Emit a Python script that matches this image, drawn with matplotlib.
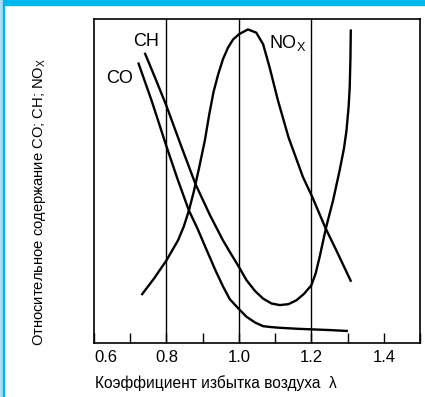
import matplotlib.pyplot as plt
from matplotlib.patches import Rectangle

plt.rcParams['font.family'] = ['Liberation Sans', 'DejaVu Sans']

# values (relative units, 0..1)
co_x = [0.722, 0.76, 0.80, 0.83, 0.862, 0.885, 0.906, 0.935, 0.956, 0.975, 1.00, 1.021, 1.045, 1.067, 1.09, 1.113, 1.16, 1.204, 1.25, 1.301]
co_y = [0.866, 0.745, 0.607, 0.508, 0.409, 0.355, 0.300, 0.225, 0.175, 0.135, 0.105, 0.081, 0.063, 0.052, 0.049, 0.047, 0.044, 0.042, 0.040, 0.037]

ch_x = [0.740, 0.77, 0.80, 0.84, 0.880, 0.92, 0.956, 0.975, 1.00, 1.021, 1.045, 1.067, 1.09, 1.113, 1.137, 1.159, 1.18, 1.20, 1.212, 1.223, 1.241, 1.260, 1.278, 1.290, 1.297, 1.303, 1.306, 1.308, 1.309]
ch_y = [0.896, 0.815, 0.732, 0.610, 0.491, 0.395, 0.317, 0.281, 0.235, 0.194, 0.160, 0.137, 0.122, 0.117, 0.120, 0.132, 0.152, 0.178, 0.215, 0.266, 0.358, 0.440, 0.532, 0.600, 0.655, 0.730, 0.789, 0.880, 0.968]

nox_x = [0.731, 0.765, 0.80, 0.832, 0.848, 0.862, 0.875, 0.890, 0.906, 0.918, 0.93, 0.943, 0.956, 0.970, 0.984, 1.00, 1.025, 1.048, 1.067, 1.085, 1.108, 1.137, 1.177, 1.203, 1.239, 1.269, 1.310]
nox_y = [0.148, 0.198, 0.255, 0.317, 0.360, 0.409, 0.465, 0.540, 0.625, 0.705, 0.775, 0.830, 0.876, 0.912, 0.937, 0.953, 0.968, 0.958, 0.922, 0.850, 0.748, 0.635, 0.512, 0.450, 0.355, 0.286, 0.189]

labels = ['CO', 'CH', 'NO$_\\mathregular{X}$']
label_pos = [(0.670, 0.815), (0.745, 0.932), (1.136, 0.927)]
grid_x = [0.8, 1.0, 1.2]
major_ticks = [0.6, 0.8, 1.0, 1.2, 1.4]
major_labels = ['0.6', '0.8', '1.0', '1.2', '1.4']
minor_ticks = [0.7, 0.9, 1.1, 1.3, 1.5]

fig = plt.figure(figsize=(4.25, 3.97), dpi=100)
fig.patch.set_facecolor('white')
# blue frame of the page
fig.patches.append(Rectangle((0, 0.987), 1, 0.013, transform=fig.transFigure, color='#00b8f0', zorder=0))
fig.patches.append(Rectangle((0, 0), 0.008, 1, transform=fig.transFigure, color='#a8ddf5', zorder=0))
fig.patches.append(Rectangle((0.008, 0), 0.0025, 1, transform=fig.transFigure, color='#00b4f0', zorder=0))

ax = fig.add_axes([0.2212, 0.136, 0.767, 0.816])
ax.set_xlim(0.6, 1.5)
ax.set_ylim(0, 1)

for gx in grid_x:
    ax.axvline(gx, color='black', lw=1.0)

for xs, ys in [(co_x, co_y), (ch_x, ch_y), (nox_x, nox_y)]:
    ax.plot(xs, ys, color='black', lw=1.7, solid_capstyle='butt', solid_joinstyle='round')

for txt, (tx, ty) in zip(labels, label_pos):
    ax.text(tx, ty, txt, fontsize=13, ha='center', va='center')

ax.set_xticks(major_ticks)
ax.set_xticklabels(major_labels)
ax.get_xticklabels()[0].set_horizontalalignment('left')
ax.set_xticks(minor_ticks, minor=True)
ax.tick_params(axis='x', which='both', direction='in', length=7, width=1, labelsize=12, pad=5)
ax.set_yticks([])
for s in ax.spines.values():
    s.set_linewidth(1.2)

fig.text(216 / 425, 1 - 383 / 397, 'Коэффициент избытка воздуха  λ', fontsize=11.2, ha='center', va='center')
fig.text(40 / 425, 1 - 202 / 397, 'Относительное содержание CO; CH; NO$_\\mathregular{X}$',
         fontsize=10.6, rotation=90, ha='center', va='center')

fig.savefig('out.png', dpi=100)
